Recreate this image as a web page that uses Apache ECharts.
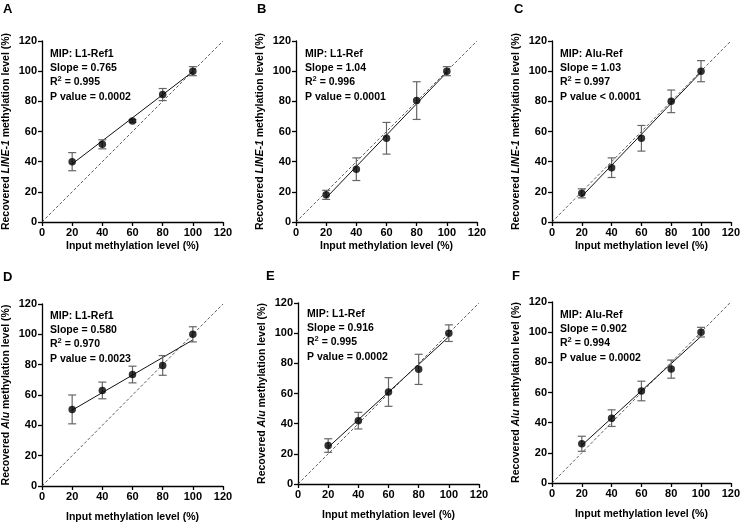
<!DOCTYPE html>
<html><head><meta charset="utf-8">
<script src="https://cdn.jsdelivr.net/npm/echarts@6/dist/echarts.min.js"></script>
<style>html,body{margin:0;padding:0;background:#fff}#c{width:743px;height:526px}</style>
</head><body><div id="c"></div>
<script>
// ---- data ----
const inputLevels = [20, 40, 60, 80, 100];
const axisTicks = [0, 20, 40, 60, 80, 100, 120];
const panelLetters = ['A', 'B', 'C', 'D', 'E', 'F'];
const mipNames = ['L1-Ref1', 'L1-Ref', 'Alu-Ref', 'L1-Ref1', 'L1-Ref', 'Alu-Ref'];
const slopes = ['0.765', '1.04', '1.03', '0.580', '0.916', '0.902'];
const r2s = ['0.995', '0.996', '0.997', '0.970', '0.995', '0.994'];
const pvals = ['= 0.0002', '= 0.0001', '< 0.0001', '= 0.0023', '= 0.0002', '= 0.0002'];
const genes = ['LINE-1', 'LINE-1', 'LINE-1', 'Alu', 'Alu', 'Alu'];

const meanA = [40, 51.5, 67, 84.5, 100];
const sdA = [6, 3, 0.8, 4, 3];
const meanB = [18, 35, 55.5, 80.5, 100];
const sdB = [3, 7.5, 10.5, 12.5, 3];
const meanC = [19, 36, 55.5, 80, 100];
const sdC = [3, 6.5, 8.5, 7.5, 7];
const meanD = [50.5, 63, 73.5, 79.5, 100];
const sdD = [9.5, 5.5, 5.5, 6.5, 5];
const meanE = [25.5, 42, 61, 76, 100];
const sdE = [4.5, 5.5, 9.5, 10, 5.5];
const meanF = [26, 43, 61, 75.5, 100];
const sdF = [5, 5.5, 6.5, 6, 3.2];

// fitted regression line ends (at x=20 and x=100)
const fitA = [38.5, 99.7];
const fitB = [16, 99.2];
const fitC = [17, 99.3];
const fitD = [50, 96.3];
const fitE = [24.3, 97.6];
const fitF = [25, 97.2];

const means = [meanA, meanB, meanC, meanD, meanE, meanF];
const sds = [sdA, sdB, sdC, sdD, sdE, sdF];
const fits = [fitA, fitB, fitC, fitD, fitE, fitF];

// ---- layout ----
const FONT = '"Liberation Sans", Arial, sans-serif';
const TF = 10.5; // title font
const LF = 11;   // tick label font
const grids = [
  {left: 42, top: 41, width: 181, height: 181},
  {left: 296, top: 41, width: 181, height: 181},
  {left: 552, top: 41, width: 180, height: 181},
  {left: 42, top: 304, width: 181, height: 182},
  {left: 298, top: 303, width: 181, height: 181},
  {left: 552, top: 302, width: 181, height: 181}
];
const letterPos = [[3, 3], [257, 3], [514, 3], [3, 271], [266, 270], [512, 270]];
const notePos = [[50, 47], [305, 47], [560, 47], [50, 309], [307, 307], [560, 308]];

const xAxes = [], yAxes = [], series = [], graphics = [];
grids.forEach((g, i) => {
  const row2 = i >= 3;
  xAxes.push({
    gridIndex: i, type: 'value', min: 0, max: 120, interval: 20,
    name: 'Input methylation level (%)', nameLocation: 'middle', nameGap: row2 ? 26 : 19,
    nameTextStyle: {fontFamily: FONT, fontWeight: 'bold', fontSize: TF, color: '#000'},
    axisLine: {lineStyle: {color: '#000', width: 1.3}},
    axisTick: {show: true, length: 4, lineStyle: {color: '#000', width: 1.3}},
    axisLabel: {fontFamily: FONT, fontWeight: 'bold', fontSize: LF, color: '#000', margin: 5},
    splitLine: {show: false}
  });
  yAxes.push({
    gridIndex: i, type: 'value', min: 0, max: 120, interval: 20,
    name: 'Recovered {i|' + genes[i] + '} methylation level (%)', nameLocation: 'middle', nameGap: 30,
    nameRotate: 90,
    nameTextStyle: {fontFamily: FONT, fontWeight: 'bold', fontSize: TF, color: '#000',
      rich: {i: {fontFamily: FONT, fontWeight: 'bold', fontStyle: 'italic', fontSize: TF, color: '#000'}}},
    axisLine: {lineStyle: {color: '#000', width: 1.3}},
    axisTick: {show: true, length: 4, lineStyle: {color: '#000', width: 1.3}},
    axisLabel: {fontFamily: FONT, fontWeight: 'bold', fontSize: LF, color: '#000', margin: 5},
    splitLine: {show: false}
  });
  // diagonal identity line
  series.push({
    type: 'line', xAxisIndex: i, yAxisIndex: i, data: [[0, 0], [120, 120]],
    symbol: 'none', silent: true, z: 1,
    lineStyle: {color: '#333', width: 0.8, type: [3, 2]}
  });
  // fit line
  series.push({
    type: 'line', xAxisIndex: i, yAxisIndex: i,
    data: [[inputLevels[0], fits[i][0]], [inputLevels[inputLevels.length - 1], fits[i][1]]],
    symbol: 'none', silent: true, z: 2,
    lineStyle: {color: '#111', width: 1}
  });
  // error bars
  const eb = inputLevels.map((x, k) => [x, means[i][k] - sds[i][k], means[i][k] + sds[i][k]]);
  series.push({
    type: 'custom', xAxisIndex: i, yAxisIndex: i, data: eb, z: 3, silent: true,
    renderItem: (params, api) => {
      const x = api.value(0);
      const lo = api.coord([x, api.value(1)]);
      const hi = api.coord([x, api.value(2)]);
      const w = 4;
      const st = {stroke: '#666', lineWidth: 1.2};
      return {type: 'group', children: [
        {type: 'line', shape: {x1: lo[0], y1: lo[1], x2: hi[0], y2: hi[1]}, style: st},
        {type: 'line', shape: {x1: lo[0] - w, y1: lo[1], x2: lo[0] + w, y2: lo[1]}, style: st},
        {type: 'line', shape: {x1: hi[0] - w, y1: hi[1], x2: hi[0] + w, y2: hi[1]}, style: st}
      ]};
    }
  });
  // points
  series.push({
    type: 'scatter', xAxisIndex: i, yAxisIndex: i, z: 4,
    data: inputLevels.map((x, k) => [x, means[i][k]]),
    symbol: 'circle', symbolSize: 7.5, itemStyle: {color: '#000'}
  });
  graphics.push({
    type: 'text', left: letterPos[i][0], top: letterPos[i][1],
    style: {text: panelLetters[i], font: 'bold 13px ' + FONT, fill: '#000'}
  });
  graphics.push({
    type: 'text', left: notePos[i][0], top: notePos[i][1],
    style: {
      text: 'MIP: ' + mipNames[i] + '\nSlope = ' + slopes[i] + '\nR{sup|2} = ' + r2s[i] + '\nP value ' + pvals[i],
      font: 'bold ' + TF + 'px ' + FONT, fill: '#000', lineHeight: 14.2,
      rich: {sup: {font: 'bold 7.5px ' + FONT, fill: '#000', verticalAlign: 'top', lineHeight: 14.2, padding: [0, 0, 5, 0]}}
    }
  });
});

const chart = echarts.init(document.getElementById('c'), null, {renderer: 'canvas'});
chart.setOption({
  animation: false,
  grid: grids,
  xAxis: xAxes,
  yAxis: yAxes,
  series: series,
  graphic: graphics
});
</script></body></html>
